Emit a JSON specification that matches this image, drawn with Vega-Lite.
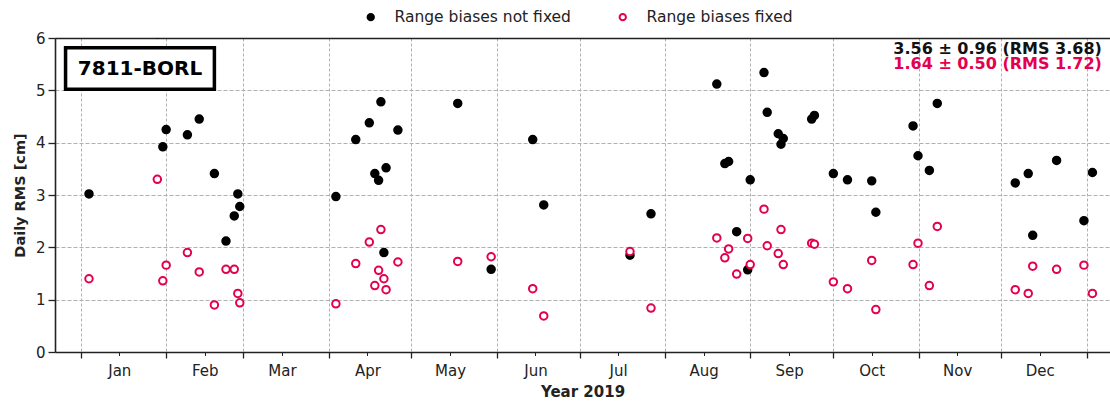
{
  "$schema": "https://vega.github.io/schema/vega-lite/v6.json",
  "width": 1055,
  "height": 314,
  "autosize": "none",
  "padding": {"left": 55, "top": 38, "right": 0, "bottom": 49},
  "background": "white",
  "config": {"font": "DejaVu Sans", "view": {"stroke": null}},
  "resolve": {"axis": {"x": "independent", "y": "independent"}},
  "layer": [
    {
      "data": {"values": [
        {"t": "2019-01-04T00:00:00", "s": "Range biases not fixed", "v": 3.02},
        {"t": "2019-01-28T19:00:00", "s": "Range biases not fixed", "v": 6.08},
        {"t": "2019-01-30T19:00:00", "s": "Range biases not fixed", "v": 3.92},
        {"t": "2019-02-01T00:00:00", "s": "Range biases not fixed", "v": 4.25},
        {"t": "2019-02-08T17:00:00", "s": "Range biases not fixed", "v": 4.15},
        {"t": "2019-02-13T00:00:00", "s": "Range biases not fixed", "v": 4.45},
        {"t": "2019-02-18T12:00:00", "s": "Range biases not fixed", "v": 3.41},
        {"t": "2019-02-22T17:00:00", "s": "Range biases not fixed", "v": 2.12},
        {"t": "2019-02-25T17:00:00", "s": "Range biases not fixed", "v": 2.60},
        {"t": "2019-02-27T00:00:00", "s": "Range biases not fixed", "v": 3.02},
        {"t": "2019-02-27T17:00:00", "s": "Range biases not fixed", "v": 2.78},
        {"t": "2019-04-03T14:00:00", "s": "Range biases not fixed", "v": 2.97},
        {"t": "2019-04-10T19:00:00", "s": "Range biases not fixed", "v": 4.06},
        {"t": "2019-04-15T17:00:00", "s": "Range biases not fixed", "v": 4.38},
        {"t": "2019-04-17T17:00:00", "s": "Range biases not fixed", "v": 3.41},
        {"t": "2019-04-19T02:00:00", "s": "Range biases not fixed", "v": 3.28},
        {"t": "2019-04-19T22:00:00", "s": "Range biases not fixed", "v": 4.78},
        {"t": "2019-04-21T00:00:00", "s": "Range biases not fixed", "v": 1.90},
        {"t": "2019-04-21T19:00:00", "s": "Range biases not fixed", "v": 3.52},
        {"t": "2019-04-26T02:00:00", "s": "Range biases not fixed", "v": 4.24},
        {"t": "2019-05-17T19:00:00", "s": "Range biases not fixed", "v": 4.75},
        {"t": "2019-05-29T22:00:00", "s": "Range biases not fixed", "v": 1.58},
        {"t": "2019-06-14T00:00:00", "s": "Range biases not fixed", "v": 4.06},
        {"t": "2019-06-18T00:00:00", "s": "Range biases not fixed", "v": 2.81},
        {"t": "2019-07-19T07:00:00", "s": "Range biases not fixed", "v": 1.85},
        {"t": "2019-07-26T22:00:00", "s": "Range biases not fixed", "v": 2.64},
        {"t": "2019-08-19T19:00:00", "s": "Range biases not fixed", "v": 5.12},
        {"t": "2019-08-22T17:00:00", "s": "Range biases not fixed", "v": 3.60},
        {"t": "2019-08-24T02:00:00", "s": "Range biases not fixed", "v": 3.64},
        {"t": "2019-08-27T00:00:00", "s": "Range biases not fixed", "v": 2.30},
        {"t": "2019-08-31T00:00:00", "s": "Range biases not fixed", "v": 1.57},
        {"t": "2019-08-31T22:00:00", "s": "Range biases not fixed", "v": 3.29},
        {"t": "2019-09-05T22:00:00", "s": "Range biases not fixed", "v": 5.34},
        {"t": "2019-09-07T02:00:00", "s": "Range biases not fixed", "v": 4.58},
        {"t": "2019-09-11T02:00:00", "s": "Range biases not fixed", "v": 4.17},
        {"t": "2019-09-12T02:00:00", "s": "Range biases not fixed", "v": 3.97},
        {"t": "2019-09-12T22:00:00", "s": "Range biases not fixed", "v": 4.08},
        {"t": "2019-09-23T05:00:00", "s": "Range biases not fixed", "v": 4.45},
        {"t": "2019-09-24T05:00:00", "s": "Range biases not fixed", "v": 4.52},
        {"t": "2019-10-01T02:00:00", "s": "Range biases not fixed", "v": 3.41},
        {"t": "2019-10-06T05:00:00", "s": "Range biases not fixed", "v": 3.29},
        {"t": "2019-10-15T00:00:00", "s": "Range biases not fixed", "v": 3.27},
        {"t": "2019-10-16T12:00:00", "s": "Range biases not fixed", "v": 2.67},
        {"t": "2019-10-30T00:00:00", "s": "Range biases not fixed", "v": 4.32},
        {"t": "2019-10-31T19:00:00", "s": "Range biases not fixed", "v": 3.75},
        {"t": "2019-11-04T22:00:00", "s": "Range biases not fixed", "v": 3.47},
        {"t": "2019-11-07T19:00:00", "s": "Range biases not fixed", "v": 4.75},
        {"t": "2019-12-06T02:00:00", "s": "Range biases not fixed", "v": 3.23},
        {"t": "2019-12-10T19:00:00", "s": "Range biases not fixed", "v": 3.41},
        {"t": "2019-12-12T10:00:00", "s": "Range biases not fixed", "v": 2.23},
        {"t": "2019-12-21T02:00:00", "s": "Range biases not fixed", "v": 3.66},
        {"t": "2019-12-31T00:00:00", "s": "Range biases not fixed", "v": 2.51},
        {"t": "2020-01-03T02:00:00", "s": "Range biases not fixed", "v": 3.43},
        {"t": "2019-01-04T00:00:00", "s": "Range biases fixed", "v": 1.40},
        {"t": "2019-01-28T19:00:00", "s": "Range biases fixed", "v": 3.30},
        {"t": "2019-01-30T19:00:00", "s": "Range biases fixed", "v": 1.36},
        {"t": "2019-02-01T00:00:00", "s": "Range biases fixed", "v": 1.66},
        {"t": "2019-02-08T17:00:00", "s": "Range biases fixed", "v": 1.90},
        {"t": "2019-02-13T00:00:00", "s": "Range biases fixed", "v": 1.53},
        {"t": "2019-02-18T12:00:00", "s": "Range biases fixed", "v": 0.90},
        {"t": "2019-02-22T17:00:00", "s": "Range biases fixed", "v": 1.58},
        {"t": "2019-02-25T17:00:00", "s": "Range biases fixed", "v": 1.58},
        {"t": "2019-02-27T00:00:00", "s": "Range biases fixed", "v": 1.12},
        {"t": "2019-02-27T17:00:00", "s": "Range biases fixed", "v": 0.94},
        {"t": "2019-04-03T14:00:00", "s": "Range biases fixed", "v": 0.92},
        {"t": "2019-04-10T19:00:00", "s": "Range biases fixed", "v": 1.69},
        {"t": "2019-04-15T17:00:00", "s": "Range biases fixed", "v": 2.10},
        {"t": "2019-04-17T17:00:00", "s": "Range biases fixed", "v": 1.27},
        {"t": "2019-04-19T02:00:00", "s": "Range biases fixed", "v": 1.56},
        {"t": "2019-04-19T22:00:00", "s": "Range biases fixed", "v": 2.34},
        {"t": "2019-04-21T00:00:00", "s": "Range biases fixed", "v": 1.40},
        {"t": "2019-04-21T19:00:00", "s": "Range biases fixed", "v": 1.19},
        {"t": "2019-04-26T02:00:00", "s": "Range biases fixed", "v": 1.72},
        {"t": "2019-05-17T19:00:00", "s": "Range biases fixed", "v": 1.73},
        {"t": "2019-05-29T22:00:00", "s": "Range biases fixed", "v": 1.82},
        {"t": "2019-06-14T00:00:00", "s": "Range biases fixed", "v": 1.21},
        {"t": "2019-06-18T00:00:00", "s": "Range biases fixed", "v": 0.69},
        {"t": "2019-07-19T07:00:00", "s": "Range biases fixed", "v": 1.92},
        {"t": "2019-07-26T22:00:00", "s": "Range biases fixed", "v": 0.84},
        {"t": "2019-08-19T19:00:00", "s": "Range biases fixed", "v": 2.18},
        {"t": "2019-08-22T17:00:00", "s": "Range biases fixed", "v": 1.80},
        {"t": "2019-08-24T02:00:00", "s": "Range biases fixed", "v": 1.97},
        {"t": "2019-08-27T00:00:00", "s": "Range biases fixed", "v": 1.49},
        {"t": "2019-08-31T00:00:00", "s": "Range biases fixed", "v": 2.17},
        {"t": "2019-08-31T22:00:00", "s": "Range biases fixed", "v": 1.67},
        {"t": "2019-09-05T22:00:00", "s": "Range biases fixed", "v": 2.73},
        {"t": "2019-09-07T02:00:00", "s": "Range biases fixed", "v": 2.03},
        {"t": "2019-09-11T02:00:00", "s": "Range biases fixed", "v": 1.88},
        {"t": "2019-09-12T02:00:00", "s": "Range biases fixed", "v": 2.34},
        {"t": "2019-09-12T22:00:00", "s": "Range biases fixed", "v": 1.67},
        {"t": "2019-09-23T05:00:00", "s": "Range biases fixed", "v": 2.08},
        {"t": "2019-09-24T05:00:00", "s": "Range biases fixed", "v": 2.06},
        {"t": "2019-10-01T02:00:00", "s": "Range biases fixed", "v": 1.34},
        {"t": "2019-10-06T05:00:00", "s": "Range biases fixed", "v": 1.21},
        {"t": "2019-10-15T00:00:00", "s": "Range biases fixed", "v": 1.75},
        {"t": "2019-10-16T12:00:00", "s": "Range biases fixed", "v": 0.81},
        {"t": "2019-10-30T00:00:00", "s": "Range biases fixed", "v": 1.67},
        {"t": "2019-10-31T19:00:00", "s": "Range biases fixed", "v": 2.08},
        {"t": "2019-11-04T22:00:00", "s": "Range biases fixed", "v": 1.27},
        {"t": "2019-11-07T19:00:00", "s": "Range biases fixed", "v": 2.40},
        {"t": "2019-12-06T02:00:00", "s": "Range biases fixed", "v": 1.19},
        {"t": "2019-12-10T19:00:00", "s": "Range biases fixed", "v": 1.12},
        {"t": "2019-12-12T10:00:00", "s": "Range biases fixed", "v": 1.64},
        {"t": "2019-12-21T02:00:00", "s": "Range biases fixed", "v": 1.58},
        {"t": "2019-12-31T00:00:00", "s": "Range biases fixed", "v": 1.66},
        {"t": "2020-01-03T02:00:00", "s": "Range biases fixed", "v": 1.12}
      ]},
      "mark": {"type": "point", "shape": "circle", "size": 56, "strokeWidth": 2, "opacity": 1, "filled": true, "clip": true},
      "encoding": {
        "x": {
          "field": "t", "type": "temporal",
          "scale": {"domain": [{"year": 2018, "month": 12, "date": 22, "hours": 16}, {"year": 2020, "month": 1, "date": 9, "hours": 11}]},
          "axis": {
            "orient": "bottom", "title": null, "labels": false, "zindex": 0,
            "values": [
              {"year": 2019, "month": 1, "date": 1}, {"year": 2019, "month": 2, "date": 1}, {"year": 2019, "month": 3, "date": 1},
              {"year": 2019, "month": 4, "date": 1}, {"year": 2019, "month": 5, "date": 1}, {"year": 2019, "month": 6, "date": 1},
              {"year": 2019, "month": 7, "date": 1}, {"year": 2019, "month": 8, "date": 1}, {"year": 2019, "month": 9, "date": 1},
              {"year": 2019, "month": 10, "date": 1}, {"year": 2019, "month": 11, "date": 1}, {"year": 2019, "month": 12, "date": 1},
              {"year": 2020, "month": 1, "date": 1}
            ],
            "grid": true, "gridColor": "#b0b0b0", "gridDash": [3, 2], "gridWidth": 1,
            "ticks": true, "tickSize": 6, "tickColor": "#222222", "tickWidth": 1.3,
            "domain": true, "domainColor": "#222222", "domainWidth": 1.6
          }
        },
        "y": {
          "field": "v", "type": "quantitative",
          "scale": {"domain": [0, 6], "nice": false, "zero": false},
          "axis": {
            "orient": "left",
            "title": "Daily RMS [cm]", "titleFontSize": 14.5, "titleFontWeight": "bold", "titleColor": "#222222", "titlePadding": 8,
            "values": [0, 1, 2, 3, 4, 5, 6], "zindex": 0,
            "labelFontSize": 15, "labelColor": "#222222", "labelPadding": 3,
            "tickSize": 7, "tickColor": "#222222", "tickWidth": 1.3,
            "grid": true, "gridColor": "#b0b0b0", "gridDash": [4, 2], "gridWidth": 1,
            "domain": true, "domainColor": "#222222", "domainWidth": 1.6
          }
        },
        "fill": {
          "field": "s", "type": "nominal",
          "scale": {"domain": ["Range biases not fixed", "Range biases fixed"], "range": ["#000000", "#ffffff"]},
          "legend": {"title": null, "orient": "none", "legendX": 308, "legendY": -29, "direction": "horizontal", "columns": 2,
            "labelFontSize": 15.5, "labelColor": "#222222", "labelLimit": 300, "symbolSize": 40, "symbolStrokeWidth": 2,
            "symbolType": "circle", "labelOffset": 16, "columnPadding": 44, "padding": 0}
        },
        "stroke": {
          "field": "s", "type": "nominal",
          "scale": {"domain": ["Range biases not fixed", "Range biases fixed"], "range": ["#000000", "#e3004f"]},
          "legend": {"title": null, "orient": "none", "legendX": 308, "legendY": -29, "direction": "horizontal", "columns": 2,
            "labelFontSize": 15.5, "labelColor": "#222222", "labelLimit": 300, "symbolSize": 40, "symbolStrokeWidth": 2,
            "symbolType": "circle", "labelOffset": 16, "columnPadding": 44, "padding": 0}
        }
      }
    },
    {
      "data": {"values": [{"t": "2018-12-26T12:00:00", "t2": "2019-02-18T12:00:00", "v": 5.815, "v2": 5.022}]},
      "mark": {"type": "rect", "fill": "white", "stroke": "black", "strokeWidth": 3.5},
      "encoding": {
        "x": {
          "field": "t", "type": "temporal",
          "axis": {
            "orient": "bottom", "title": "Year 2019", "titleFontSize": 15, "titleFontWeight": "bold", "titleColor": "#222222", "titlePadding": 6,
            "values": [
              {"year": 2019, "month": 1, "date": 15}, {"year": 2019, "month": 2, "date": 15}, {"year": 2019, "month": 3, "date": 15},
              {"year": 2019, "month": 4, "date": 15}, {"year": 2019, "month": 5, "date": 15}, {"year": 2019, "month": 6, "date": 15},
              {"year": 2019, "month": 7, "date": 15}, {"year": 2019, "month": 8, "date": 15}, {"year": 2019, "month": 9, "date": 15},
              {"year": 2019, "month": 10, "date": 15}, {"year": 2019, "month": 11, "date": 15}, {"year": 2019, "month": 12, "date": 15}
            ],
            "format": "%b", "labelFontSize": 15, "labelColor": "#222222", "labelPadding": 7.5,
            "ticks": true, "tickSize": 3.5, "tickColor": "#222222", "tickWidth": 1,
            "grid": false, "domain": false
          }
        },
        "x2": {"field": "t2"},
        "y": {"field": "v", "type": "quantitative", "axis": null},
        "y2": {"field": "v2"}
      }
    },
    {
      "data": {"values": [{"t": "2019-01-22T12:00:00", "v": 5.41, "label": "7811-BORL"}]},
      "mark": {"type": "text", "fontSize": 20, "fontWeight": "bold", "color": "black", "align": "center", "baseline": "middle"},
      "encoding": {
        "x": {"field": "t", "type": "temporal",
          "axis": {"orient": "top", "title": null, "labels": false, "ticks": false, "grid": false, "domain": true, "domainColor": "#222222", "domainWidth": 1.6}},
        "y": {"field": "v", "type": "quantitative", "axis": null},
        "text": {"field": "label"}
      }
    },
    {
      "data": {"values": [{"t": "2020-01-06T12:00:00", "v": 5.7, "label": "3.56 ± 0.96 (RMS 3.68)"}]},
      "mark": {"type": "text", "fontSize": 16, "fontWeight": "bold", "color": "#111111", "align": "right", "baseline": "alphabetic"},
      "encoding": {
        "x": {"field": "t", "type": "temporal", "axis": null},
        "y": {"field": "v", "type": "quantitative", "axis": null},
        "text": {"field": "label"}
      }
    },
    {
      "data": {"values": [{"t": "2020-01-06T12:00:00", "v": 5.4, "label": "1.64 ± 0.50 (RMS 1.72)"}]},
      "mark": {"type": "text", "fontSize": 16, "fontWeight": "bold", "color": "#e3004f", "align": "right", "baseline": "alphabetic"},
      "encoding": {
        "x": {"field": "t", "type": "temporal", "axis": null},
        "y": {"field": "v", "type": "quantitative", "axis": null},
        "text": {"field": "label"}
      }
    }
  ]
}
